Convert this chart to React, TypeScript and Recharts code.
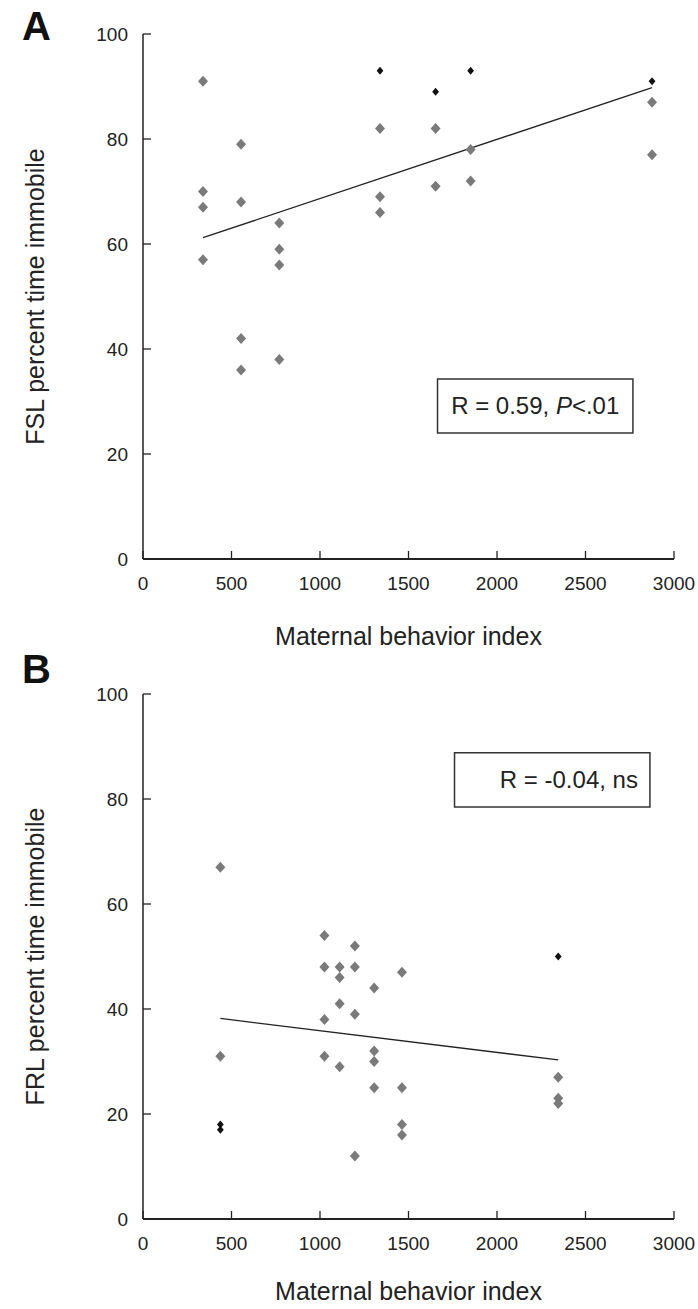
import React from 'react';
import { ScatterChart, Scatter, XAxis, YAxis, ReferenceLine, ReferenceArea, Label } from 'recharts';

// Panel A (FSL)
const aGreyX = [339, 339, 339, 339, 554, 554, 554, 554, 770, 770, 770, 770, 1339, 1339, 1339, 1653, 1653, 1851, 1851, 2876, 2876];
const aGreyY = [91, 70, 67, 57, 79, 68, 42, 36, 64, 59, 56, 38, 82, 69, 66, 82, 71, 78, 72, 87, 77];
const aBlackX = [1339, 1653, 1851, 2876];
const aBlackY = [93, 89, 93, 91];
const aFitX = [339, 2876];
const aFitY = [61.2, 89.8];

// Panel B (FRL)
const bGreyX = [437, 437, 1025, 1025, 1025, 1025, 1111, 1111, 1111, 1111, 1197, 1197, 1197, 1197, 1306, 1306, 1306, 1306, 1463, 1463, 1463, 1463, 2346, 2346, 2346];
const bGreyY = [67, 31, 54, 48, 38, 31, 48, 46, 41, 29, 52, 48, 39, 12, 44, 32, 30, 25, 47, 25, 18, 16, 27, 23, 22];
const bBlackX = [437, 437, 2346];
const bBlackY = [18, 17, 50];
const bFitX = [437, 2346];
const bFitY = [38.2, 30.3];

const xTicks = [0, 500, 1000, 1500, 2000, 2500, 3000];
const yTicks = [0, 20, 40, 60, 80, 100];

const FONT = '"Liberation Sans", Arial, Helvetica, sans-serif';
const INK = '#222';

const toPoints = (xs: number[], ys: number[]) => xs.map((x, i) => ({ x, y: ys[i] }));

const GreyDiamond = (props: any) => {
  const { cx, cy } = props;
  return (
    <polygon
      points={`${cx},${cy - 5.5} ${cx + 5},${cy} ${cx},${cy + 5.5} ${cx - 5},${cy}`}
      fill="#7a7a7a"
    />
  );
};

const BlackDiamond = (props: any) => {
  const { cx, cy } = props;
  return (
    <polygon
      points={`${cx},${cy - 4} ${cx + 3.4},${cy} ${cx},${cy + 4} ${cx - 3.4},${cy}`}
      fill="#111"
    />
  );
};

interface PanelProps {
  letter: string;
  letterY: number;
  height: number;
  xTitleY: number;
  yTitle: string;
  grey: { x: number; y: number }[];
  black: { x: number; y: number }[];
  fitX: number[];
  fitY: number[];
  box: { x1: number; x2: number; y1: number; y2: number };
  boxText: React.ReactNode;
  boxAlign: 'center' | 'right';
}

const Panel = ({ letter, letterY, height, xTitleY, yTitle, grey, black, fitX, fitY, box, boxText, boxAlign }: PanelProps) => {
  const xAxisHeight = height - 559;
  return (
    <div style={{ position: 'relative', width: 698, height }}>
      <ScatterChart width={698} height={height} margin={{ top: 34, right: 24, left: 0, bottom: 0 }}>
        <XAxis
          type="number"
          dataKey="x"
          domain={[0, 3000]}
          ticks={xTicks}
          interval={0}
          height={xAxisHeight}
          tickSize={-8}
          tickMargin={26}
          axisLine={{ stroke: INK, strokeWidth: 2 }}
          tickLine={{ stroke: INK, strokeWidth: 1.3 }}
          tick={{ fill: INK, fontSize: 19, fontFamily: FONT }}
        >
          <Label
            content={(p: any) => {
              const vb = p.viewBox;
              return (
                <text x={vb.x + vb.width / 2} y={xTitleY} textAnchor="middle" fontSize={25} fontFamily={FONT} fill={INK}>
                  Maternal behavior index
                </text>
              );
            }}
          />
        </XAxis>
        <YAxis
          type="number"
          dataKey="y"
          domain={[0, 100]}
          ticks={yTicks}
          interval={0}
          width={143}
          tickSize={-8}
          tickMargin={23}
          axisLine={{ stroke: INK, strokeWidth: 1.5 }}
          tickLine={{ stroke: INK, strokeWidth: 1.3 }}
          tick={{ fill: INK, fontSize: 19, fontFamily: FONT }}
        >
          <Label
            content={(p: any) => {
              const vb = p.viewBox;
              const cy = vb.y + vb.height / 2;
              return (
                <text
                  x={44}
                  y={cy}
                  transform={`rotate(-90, 44, ${cy})`}
                  textAnchor="middle"
                  fontSize={25}
                  fontFamily={FONT}
                  fill={INK}
                >
                  {yTitle}
                </text>
              );
            }}
          />
        </YAxis>
        <ReferenceLine
          segment={[{ x: fitX[0], y: fitY[0] }, { x: fitX[1], y: fitY[1] }]}
          stroke={INK}
          strokeWidth={1.3}
          ifOverflow="visible"
        />
        <Scatter data={grey} shape={GreyDiamond} isAnimationActive={false} />
        <Scatter data={black} shape={BlackDiamond} isAnimationActive={false} />
        <ReferenceArea
          x1={box.x1}
          x2={box.x2}
          y1={box.y1}
          y2={box.y2}
          fill="#fff"
          fillOpacity={1}
          stroke="#333"
          strokeWidth={1.5}
          ifOverflow="visible"
          label={(p: any) => {
            const vb = p.viewBox;
            const cy = vb.y + vb.height / 2;
            const tx = boxAlign === 'center' ? vb.x + vb.width / 2 : vb.x + vb.width - 12;
            return (
              <text
                x={tx}
                y={cy}
                dy={8}
                textAnchor={boxAlign === 'center' ? 'middle' : 'end'}
                fontSize={24}
                fontFamily={FONT}
                fill={INK}
              >
                {boxText}
              </text>
            );
          }}
        />
      </ScatterChart>
      <svg width={80} height={60} style={{ position: 'absolute', left: 0, top: 0, overflow: 'visible' }}>
        <text x={22} y={letterY} fontSize={40} fontWeight="bold" fontFamily={FONT} fill="#111">
          {letter}
        </text>
      </svg>
    </div>
  );
};

export default function App() {
  return (
    <div style={{ position: 'absolute', left: 0, top: 0, width: 698, height: 1309, background: '#fff' }}>
      <Panel
        letter="A"
        letterY={40}
        height={660}
        xTitleY={645}
        yTitle="FSL percent time immobile"
        grey={toPoints(aGreyX, aGreyY)}
        black={toPoints(aBlackX, aBlackY)}
        fitX={aFitX}
        fitY={aFitY}
        box={{ x1: 1664, x2: 2768, y1: 24, y2: 34.3 }}
        boxText={
          <>
            R = 0.59, <tspan fontStyle="italic">P</tspan>&lt;.01
          </>
        }
        boxAlign="center"
      />
      <Panel
        letter="B"
        letterY={23}
        height={649}
        xTitleY={640}
        yTitle="FRL percent time immobile"
        grey={toPoints(bGreyX, bGreyY)}
        black={toPoints(bBlackX, bBlackY)}
        fitX={bFitX}
        fitY={bFitY}
        box={{ x1: 1760, x2: 2864, y1: 78.5, y2: 88.8 }}
        boxText="R = -0.04, ns"
        boxAlign="right"
      />
    </div>
  );
}
